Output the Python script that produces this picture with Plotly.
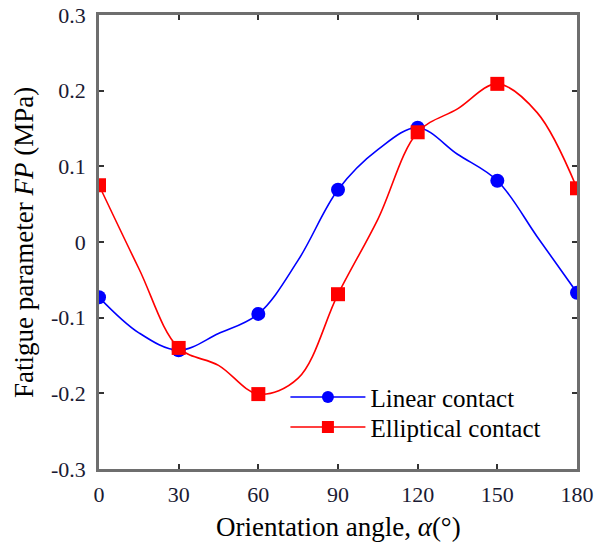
import plotly.graph_objects as go

# Curve knots (every 15 degrees)
angle_fine = [0, 15, 30, 45, 60, 75, 90, 105, 120, 135, 150, 165, 180]
linear_fine = [-0.073, -0.120, -0.143, -0.121, -0.095, -0.024, 0.069, 0.122, 0.151, 0.116, 0.081, 0.007, -0.067]
ellip_fine = [0.075, -0.035, -0.140, -0.163, -0.201, -0.180, -0.069, 0.030, 0.145, 0.176, 0.209, 0.171, 0.071]

# Marked points (every 30 degrees)
angle_mark = [0, 30, 60, 90, 120, 150, 180]
linear_mark = [-0.073, -0.143, -0.095, 0.069, 0.151, 0.081, -0.067]
ellip_mark = [0.075, -0.140, -0.201, -0.069, 0.145, 0.209, 0.071]

x_ticks = [0, 30, 60, 90, 120, 150, 180]
y_ticks = [-0.3, -0.2, -0.1, 0, 0.1, 0.2, 0.3]
y_tick_text = ["-0.3", "-0.2", "-0.1", "0", "0.1", "0.2", "0.3"]

x_title = "Orientation angle, <i>α</i>(°)"
y_title = "Fatigue parameter <i>FP</i> (MPa)"

BLUE = "#0000ff"
RED = "#ff0000"
SERIF = "Liberation Serif, Times New Roman, serif"

fig = go.Figure()
fig.add_trace(go.Scatter(x=angle_fine, y=linear_fine, mode="lines",
                         line=dict(color=BLUE, width=1.6, shape="spline", smoothing=1.0),
                         showlegend=False, hoverinfo="skip"))
fig.add_trace(go.Scatter(x=angle_fine, y=ellip_fine, mode="lines",
                         line=dict(color=RED, width=1.6, shape="spline", smoothing=1.0),
                         showlegend=False, hoverinfo="skip"))
fig.add_trace(go.Scatter(x=angle_mark, y=linear_mark, mode="markers",
                         marker=dict(color=BLUE, size=14, symbol="circle"),
                         showlegend=False))
fig.add_trace(go.Scatter(x=angle_mark, y=ellip_mark, mode="markers",
                         marker=dict(color=RED, size=14, symbol="square"),
                         showlegend=False))
fig.add_trace(go.Scatter(x=[None], y=[None], mode="lines+markers", name="Linear contact",
                         line=dict(color=BLUE, width=1.6), legend="legend",
                         marker=dict(color=BLUE, size=12, symbol="circle")))
fig.add_trace(go.Scatter(x=[None], y=[None], mode="lines+markers", name="Elliptical contact",
                         line=dict(color=RED, width=1.6), legend="legend2",
                         marker=dict(color=RED, size=12, symbol="square")))

axis_common = dict(showgrid=False, zeroline=False, showline=True, linecolor="#6e6e6e",
                   linewidth=2.5, mirror="ticks", ticks="inside", ticklen=5, tickwidth=1.5,
                   tickcolor="#333333", automargin=False,
                   tickfont=dict(family=SERIF, size=22, color="#1a1a33"))

legend_common = dict(xanchor="left", yanchor="middle", bgcolor="rgba(0,0,0,0)",
                     font=dict(family=SERIF, size=25, color="black"), itemwidth=75)

fig.update_layout(
    width=595, height=546,
    margin=dict(l=99, r=18, t=15, b=77),
    paper_bgcolor="white", plot_bgcolor="white",
    font=dict(family=SERIF, color="black"),
    xaxis=dict(range=[0, 180], tickvals=x_ticks, ticktext=[str(v) for v in x_ticks],
               ticklabelstandoff=4, **axis_common),
    yaxis=dict(range=[-0.3, 0.3], tickvals=y_ticks, ticktext=y_tick_text,
               ticklabelstandoff=6, **axis_common),
    legend=dict(x=0.39, y=0.158, **legend_common),
    legend2=dict(x=0.39, y=0.092, **legend_common),
    annotations=[
        dict(text=x_title, xref="paper", yref="paper", x=0.5, y=-0.127,
             xanchor="center", yanchor="middle", showarrow=False,
             font=dict(family=SERIF, size=27, color="black")),
        dict(text=y_title, xref="paper", yref="paper", x=-0.157, y=0.5,
             xanchor="center", yanchor="middle", textangle=-90, showarrow=False,
             font=dict(family=SERIF, size=27, color="black")),
    ],
)

fig.write_html("out.html")
